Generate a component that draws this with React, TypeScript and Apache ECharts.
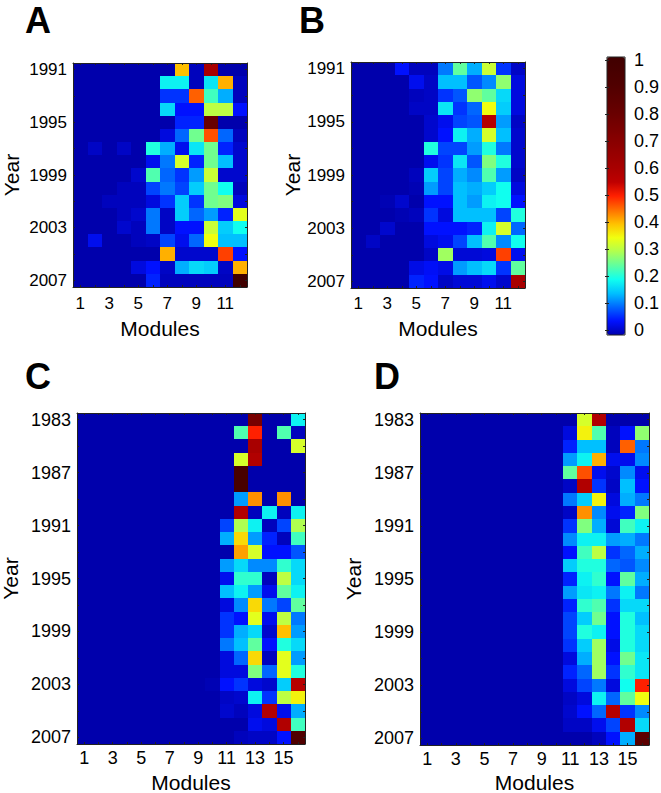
import React, { useEffect, useRef } from "react";
import * as echarts from "echarts";

const yearsAB = ["1991","1992","1993","1994","1995","1996","1997","1998","1999","2000","2001","2002","2003","2004","2005","2006","2007"];
const yearsCD = ["1983","1984","1985","1986","1987","1988","1989","1990","1991","1992","1993","1994","1995","1996","1997","1998","1999","2000","2001","2002","2003","2004","2005","2006","2007"];
const modulesAB = ["1","2","3","4","5","6","7","8","9","10","11","12"];
const modulesCD = ["1","2","3","4","5","6","7","8","9","10","11","12","13","14","15","16"];
const colorTicks = ["0","0.1","0.2","0.3","0.4","0.5","0.6","0.7","0.8","0.9","1"];

const panelA = [
  [0,0,0,0,0,0,0,.40,.01,.6,0,0],
  [0,0,0,0,0,0,.19,.19,.01,.18,.41,.01],
  [0,0,0,0,0,0,.07,.07,.46,.23,.14,.01],
  [0,0,0,0,0,0,.17,.05,.05,.31,.31,.05],
  [0,0,0,0,0,0,0,.06,.06,.8,0,0],
  [0,0,0,0,0,0,.03,.1,.26,.47,.1,.01],
  [0,.015,0,.015,0,.21,.14,.04,.18,.26,.06,.02],
  [0,0,0,0,0,.04,.11,.33,.06,.26,.15,.02],
  [0,0,0,0,.02,.24,.1,.07,.13,.32,.02,.02],
  [0,0,0,.01,.01,.08,.11,.08,.16,.26,.2,.01],
  [0,0,.01,.01,.01,.03,.07,.16,.07,.26,.27,.03],
  [0,0,0,.01,.02,.11,.015,.16,.1,.13,.06,.34],
  [0,0,0,.02,.01,.11,.015,.05,.05,.32,.16,.2],
  [0,.04,0,0,.01,.015,.08,.04,.1,.35,.15,.15],
  [0,0,0,0,0,0,.41,.02,.02,.02,.48,.05],
  [0,0,0,0,.03,.05,.015,.14,.17,.16,.015,.41],
  [0,0,0,0,0,.06,.01,.01,.01,.01,.01,1],
];

const panelB = [
  [0,0,0,.05,.01,.01,.11,.25,.14,.32,.07,.015],
  [0,0,0,0,.04,.015,.15,.15,.09,.12,.28,.03],
  [0,0,0,0,.01,.015,.07,.09,.28,.25,.17,.03],
  [0,0,0,0,.015,.015,.18,.07,.1,.35,.16,.03],
  [0,0,0,0,0,.02,.04,.08,.09,.57,.13,.015],
  [0,0,0,0,0,.02,.05,.19,.14,.33,.15,.02],
  [0,0,0,0,0,.21,.08,.08,.13,.21,.11,.02],
  [0,0,0,0,0,.04,.07,.18,.09,.27,.21,.02],
  [0,0,0,0,.01,.16,.08,.14,.12,.24,.13,.015],
  [0,0,0,0,.005,.13,.08,.15,.14,.16,.2,.03],
  [0,0,.005,.02,0,.05,.05,.15,.13,.19,.2,.05],
  [0,0,0,.005,.01,.07,.03,.15,.15,.15,.08,.21],
  [0,0,.02,0,0,.05,.05,.05,.06,.19,.33,.1],
  [0,.015,0,0,0,.03,.04,.08,.15,.24,.12,.2],
  [0,0,0,0,0,.015,.29,.025,.025,.03,.48,.04],
  [0,0,0,0,.035,.045,.035,.13,.15,.17,.07,.25],
  [0,0,0,0,.06,.05,.015,.025,.025,.04,.02,.6],
];

// Columns 10 to 16; columns 1 to 9 are at zero.
const panelCTail = [
  [0,0,0,.75,0,0,.19],
  [0,0,.24,.5,0,.24,.01],
  [0,0,0,.6,0,0,.33],
  [0,0,.33,.58,0,0,0],
  [0,0,.95,0,0,0,0],
  [0,0,.95,0,0,0,0],
  [0,0,.13,.43,0,.43,0],
  [0,0,.58,.01,.19,.01,.19],
  [0,.08,.3,.19,.01,.08,.3],
  [0,.14,.38,.13,.06,.01,.23],
  [0,0,.42,.33,.05,.05,.09],
  [0,.13,.17,.12,.12,.22,.17],
  [0,.04,.22,.22,.01,.31,.17],
  [0,.15,.19,.13,.04,.25,.19],
  [0,.03,.12,.38,.11,.08,.25],
  [0,.07,.05,.34,.04,.31,.11],
  [0,.07,.14,.17,.02,.4,.13],
  [0,.11,.15,.25,.05,.21,.17],
  [0,.03,.1,.38,.01,.34,.13],
  [0,.03,.03,.27,.1,.34,.21],
  [.005,.05,.07,.03,.02,.16,.57],
  [0,.015,.02,.19,.07,.31,.36],
  [0,.02,.01,.03,.58,.04,.14],
  [0,0,0,.04,.03,.58,.23],
  [0,0,.01,.015,.015,.05,.9],
];

const panelDTail = [
  [0,0,.33,.58,0,0,0],
  [0,.03,.36,.24,.01,.05,.28],
  [0,.06,.15,.15,.01,.46,.11],
  [0,.13,.19,.41,.04,.04,.12],
  [0,.25,.47,.04,.02,.12,.04],
  [0,.015,.58,.07,.015,.15,.05],
  [0,.11,.16,.36,.03,.14,.11],
  [0,.015,.43,.12,.04,.06,.27],
  [0,.07,.27,.14,.025,.23,.19],
  [0,.12,.19,.19,.13,.14,.11],
  [0,.05,.23,.31,.07,.1,.14],
  [0,.16,.21,.21,.1,.09,.12],
  [0,.06,.19,.22,.05,.25,.14],
  [0,.13,.18,.19,.11,.19,.11],
  [0,.06,.22,.24,.07,.17,.17],
  [0,.08,.16,.26,.05,.21,.15],
  [0,.08,.21,.19,.05,.21,.17],
  [0,.07,.16,.29,.035,.21,.17],
  [0,.03,.14,.29,.05,.26,.18],
  [0,.06,.1,.29,.07,.22,.18],
  [0,.03,.08,.11,.03,.2,.5],
  [0,.015,.03,.19,.1,.25,.35],
  [0,.02,.05,.1,.57,.07,.12],
  [0,.015,.015,.04,.08,.58,.17],
  [0,0,0,.01,.05,.14,.85],
];

// Colour stops are evenly spaced over 0..1, every 0.05.
const jetStops = [
  "#0000ac","#0011ff","#0066ff","#00c0ff","#10ffef","#60ff9f","#b0ff50","#f0ff10","#ffc000","#ff7000","#ff2000",
  "#bf0000","#a80000","#980000","#880000","#780000","#680000","#5c0000","#500000","#480000","#400000",
];

const padRow = (tail: number[]) => [0,0,0,0,0,0,0,0,0,...tail];
const toCells = (rows: number[][]) =>
  rows.flatMap((row, r) => row.map((v, c) => [c, r, v]));

const tickStyle = { show: true, inside: true, length: 2, alignWithLabel: true, lineStyle: { color: "#222", width: 1 } };
const lineStyle = { show: true, onZero: false, lineStyle: { color: "#222", width: 1 } };
const FONT = "Liberation Sans";
const nameFont = { fontFamily: FONT, fontSize: 21, color: "#000" };

const panels = [
  { letter: "A", cats: modulesAB, years: yearsAB, rows: panelA, left: 73, top: 63, width: 174, height: 224, letterLeft: 25, letterTop: 2, yGap: 51, xGap: 31, font: 17, xMargin: 8 },
  { letter: "B", cats: modulesAB, years: yearsAB, rows: panelB, left: 351, top: 62, width: 174, height: 226, letterLeft: 299, letterTop: 2, yGap: 41, xGap: 30, font: 17, xMargin: 7 },
  { letter: "C", cats: modulesCD, years: yearsCD, rows: panelCTail.map(padRow), left: 77, top: 413, width: 228, height: 331, letterLeft: 25, letterTop: 358, yGap: 56, xGap: 28, font: 18, xMargin: 5 },
  { letter: "D", cats: modulesCD, years: yearsCD, rows: panelDTail.map(padRow), left: 420, top: 413, width: 229, height: 332, letterLeft: 374, letterTop: 358, yGap: 56, xGap: 27, font: 18, xMargin: 5 },
];

const renderCell = (params: any, api: any) => {
  const centre = api.coord([api.value(0), api.value(1)]);
  const size = api.size([1, 1]);
  const x0 = Math.round(centre[0] - size[0] / 2);
  const x1 = Math.round(centre[0] + size[0] / 2);
  const y0 = Math.round(centre[1] - size[1] / 2);
  const y1 = Math.round(centre[1] + size[1] / 2);
  return {
    type: "rect",
    shape: { x: x0, y: y0, width: x1 - x0, height: y1 - y0 },
    style: { fill: api.visual("color") },
  };
};

export default function App() {
  const ref = useRef<HTMLDivElement>(null);
  useEffect(() => {
    const chart = echarts.init(ref.current!, null, { renderer: "svg" });
    const grid: any[] = [];
    const xAxis: any[] = [];
    const yAxis: any[] = [];
    const series: any[] = [];
    panels.forEach((p, i) => {
      const labelFont = { fontFamily: FONT, fontSize: p.font, color: "#000" };
      grid.push({ left: p.left, top: p.top, width: p.width, height: p.height, outerBoundsMode: "none", show: true, backgroundColor: "#0000ac", borderWidth: 0 });
      xAxis.push({
        type: "category", gridIndex: i, data: p.cats, position: "bottom", z: 5,
        name: "Modules", nameLocation: "middle", nameGap: p.xGap, nameTextStyle: nameFont,
        axisLine: lineStyle, axisTick: { ...tickStyle, interval: 0 },
        axisLabel: { ...labelFont, interval: 1, margin: p.xMargin }, splitLine: { show: false }, splitArea: { show: false },
      });
      yAxis.push({
        type: "category", gridIndex: i, data: p.years, inverse: true, position: "left", z: 5,
        name: "Year", nameLocation: "middle", nameGap: p.yGap, nameRotate: 90, nameTextStyle: nameFont,
        axisLine: lineStyle, axisTick: { ...tickStyle, interval: 1 },
        axisLabel: { ...labelFont, interval: 3, margin: 6, padding: [8, 0, 0, 0] }, splitLine: { show: false }, splitArea: { show: false },
      });
      series.push({
        type: "custom", xAxisIndex: i, yAxisIndex: i, coordinateSystem: "cartesian2d",
        data: toCells(p.rows), renderItem: renderCell, encode: { x: 0, y: 1 }, clip: true, silent: true,
      });
    });
    panels.forEach((p, i) => {
      xAxis.push({
        type: "category", gridIndex: i, data: p.cats, position: "top", z: 5,
        axisLine: lineStyle, axisTick: { ...tickStyle, interval: 0 }, axisLabel: { show: false }, splitLine: { show: false },
      });
      yAxis.push({
        type: "category", gridIndex: i, data: p.years, inverse: true, position: "right", z: 5,
        axisLine: lineStyle, axisTick: { ...tickStyle, interval: 1 }, axisLabel: { show: false }, splitLine: { show: false },
      });
    });
    // Colour bar ticks and tick labels.
    const barTick = { show: true, inside: true, length: 2, lineStyle: { color: "#222" } };
    grid.push({ left: 607, top: 60, width: 18, height: 270, outerBoundsMode: "none" });
    xAxis.push({
      type: "value", gridIndex: 4, min: 0, max: 1, axisLine: { show: false }, axisTick: { show: false },
      axisLabel: { show: false }, splitLine: { show: false },
    });
    yAxis.push({
      type: "value", gridIndex: 4, min: 0, max: 1, interval: 0.1, position: "right", z: 5,
      axisLine: { show: false }, axisTick: barTick,
      axisLabel: { fontFamily: FONT, fontSize: 18, color: "#000", margin: 9, formatter: (v: number) => colorTicks[Math.round(v * 10)] },
      splitLine: { show: false },
    });
    yAxis.push({
      type: "value", gridIndex: 4, min: 0, max: 1, interval: 0.1, position: "left", z: 5,
      axisLine: { show: false }, axisTick: barTick, axisLabel: { show: false }, splitLine: { show: false },
    });

    chart.setOption({
      animation: false,
      backgroundColor: "#fff",
      title: panels.map((p) => ({
        text: p.letter, left: p.letterLeft, top: p.letterTop, padding: 0,
        textStyle: { fontFamily: FONT, fontSize: 36, fontWeight: "bold", color: "#000" },
      })),
      grid, xAxis, yAxis, series,
      visualMap: {
        type: "continuous", min: 0, max: 1, dimension: 2, seriesIndex: [0, 1, 2, 3], calculable: false, realtime: false,
        left: 607, top: 57, itemWidth: 18, itemHeight: 278, padding: 0, showLabel: false, text: ["", ""],
        inRange: { color: jetStops }, orient: "vertical",
      },
      graphic: [
        { type: "rect", z: 20, silent: true, shape: { x: 607, y: 57, width: 18, height: 278 }, style: { fill: "none", stroke: "#222", lineWidth: 1 } },
      ],
    });
    return () => chart.dispose();
  }, []);
  return <div ref={ref} style={{ width: 661, height: 793, position: "absolute", left: 0, top: 0 }} />;
}
